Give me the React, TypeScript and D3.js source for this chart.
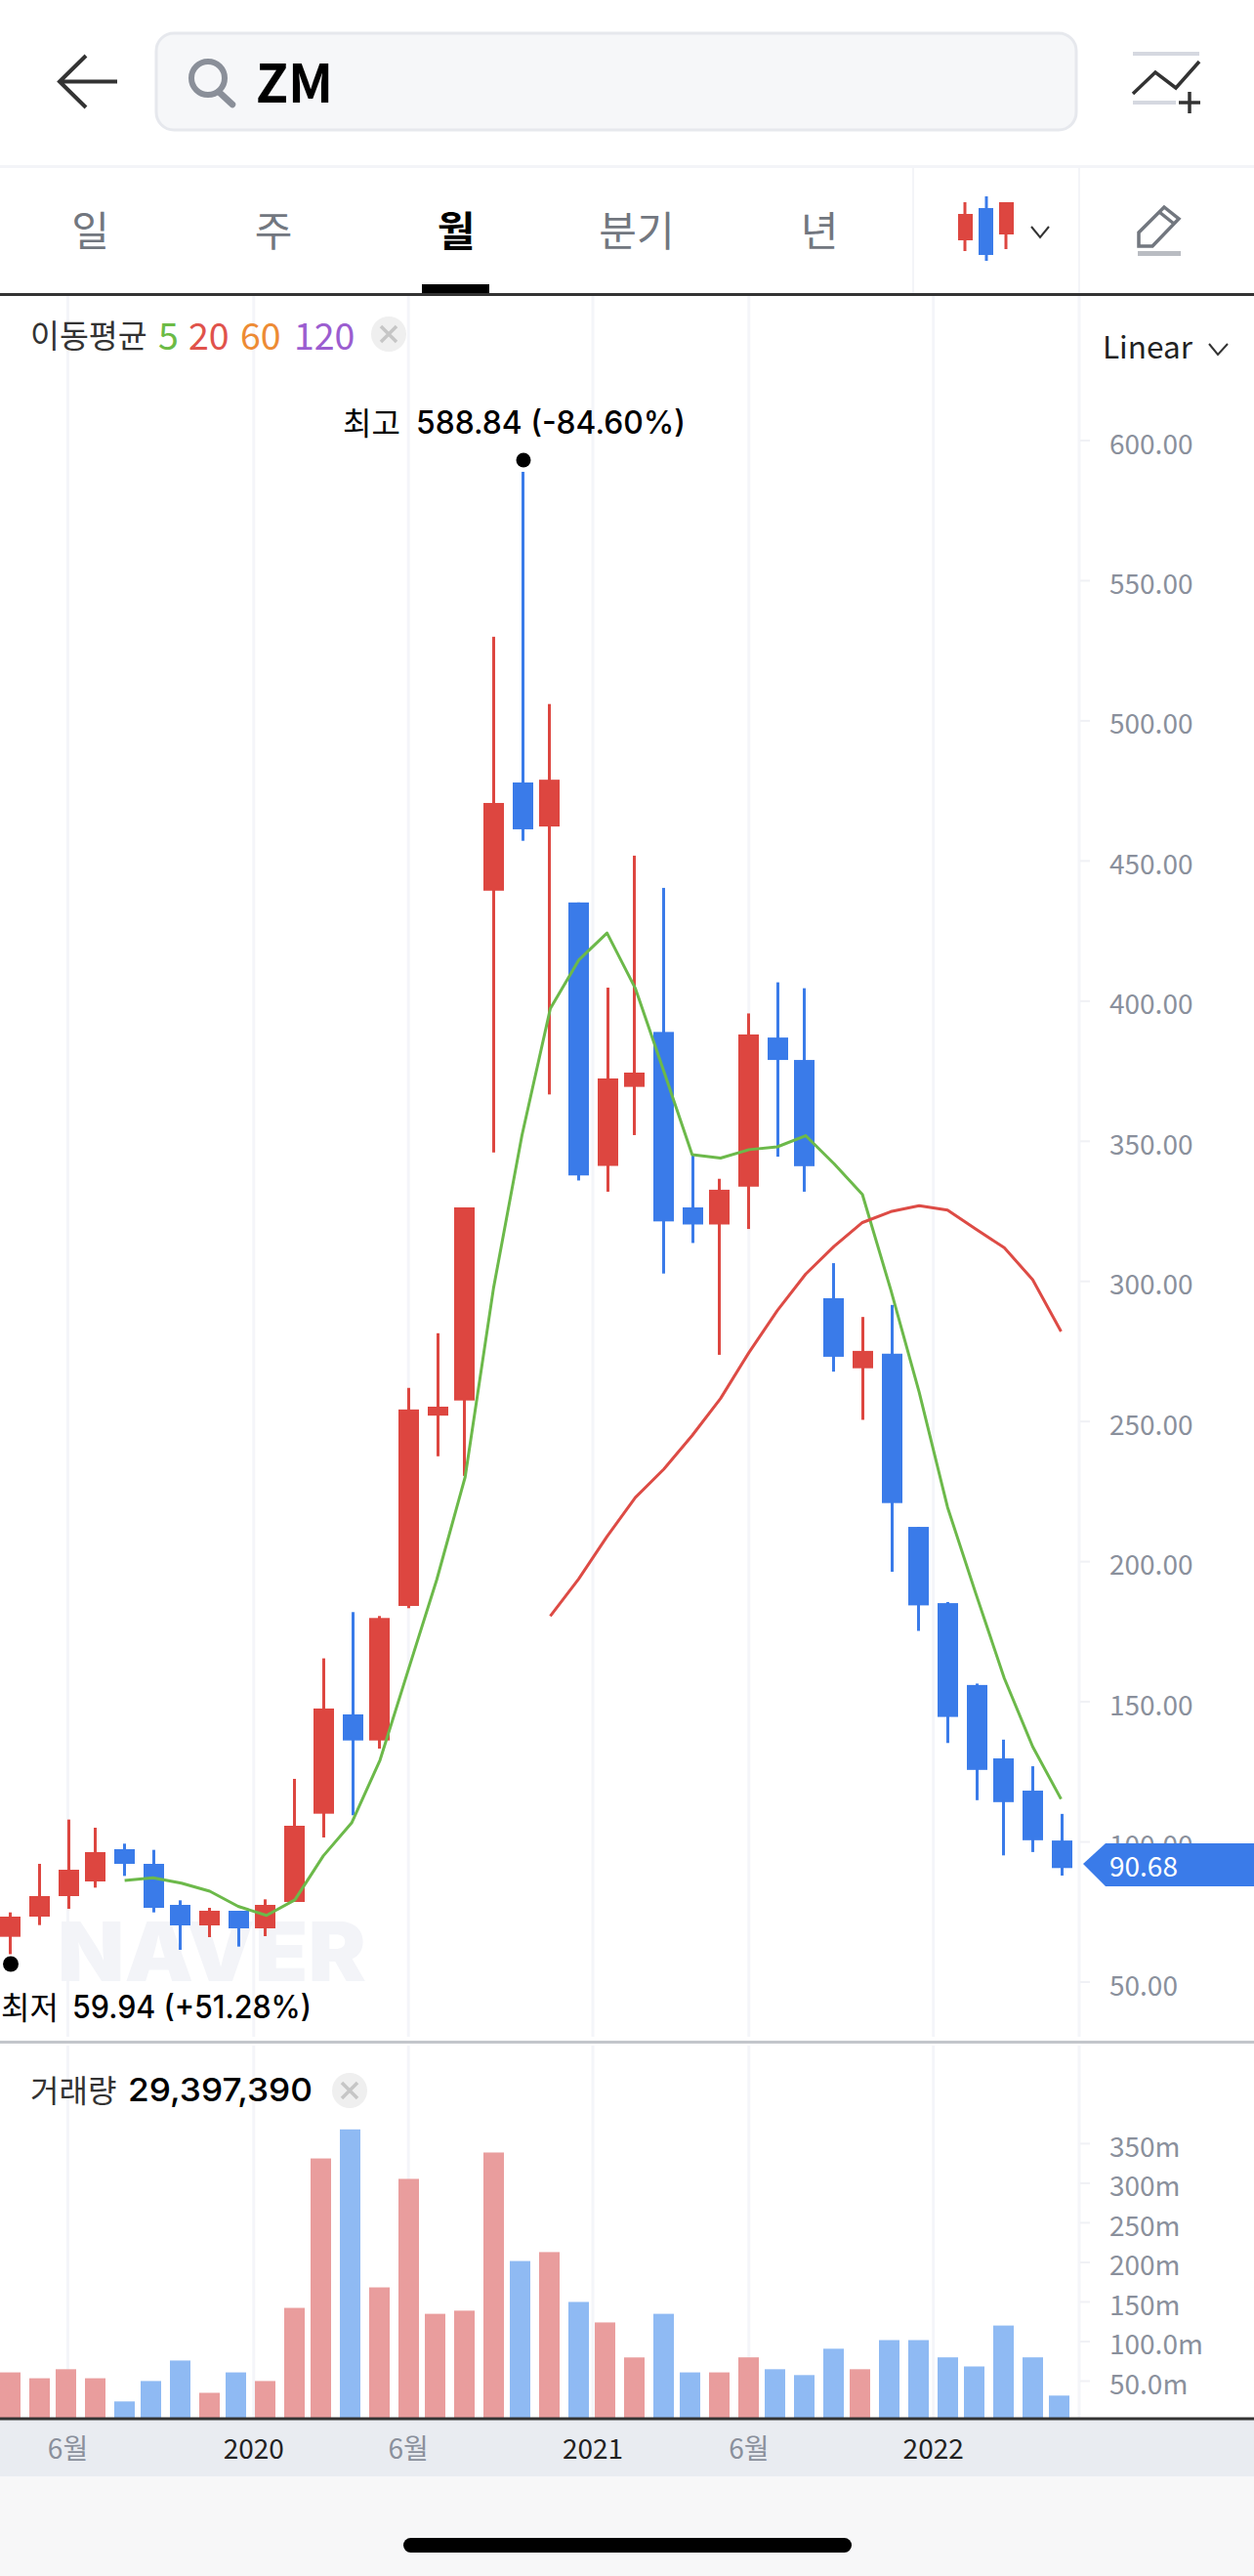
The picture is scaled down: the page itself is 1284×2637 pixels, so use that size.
import React from "react";
import * as d3 from "d3";

const W = 1284;
const H = 2637;
const KR = "'Noto Sans CJK KR', sans-serif";
const LATIN = "Inter, sans-serif";

// Monthly candles, Apr 2019 .. May 2022
const opens = [66.15,73.35,80.67,85.9,97.4,92.18,77.54,70.22,75.44,69.17,78.58,110.07,145.5,136.2,184.2,252.1,257.5,439.4,478,462.3,435.2,341.2,369.4,389,326.4,320.3,333.8,387,379,294,269,274.2,212.4,185.2,156,129.8,118.3,100.5];
const closes = [73.35,80.67,90.08,96.36,92.18,76.49,70.22,75.44,69.17,77.54,105.77,147.6,136.2,179.9,254.3,255.3,326.4,470.7,461.3,479,337.8,372.4,374.5,321.4,320.3,332.7,388.1,379,341.1,273.1,275.2,220.9,184.4,144.6,125.7,114.2,100.6,90.68];
const highs = [74.86,92.18,107.98,105.07,99.38,97.17,79.16,76.49,75.44,79.51,122.5,165.5,182,180.6,262,281.5,326.4,530,588.84,506,435.2,404.8,451.9,440.4,345,336.6,395.6,406.7,404.6,306.5,287.3,291.6,212.4,185.6,156.5,136.5,127,110];
const lows = [59.94,70.33,76.14,83.69,87.88,74.86,61.5,66.03,62.66,66.38,78.58,101.6,109.5,133.3,183.4,237.6,230.6,346,457.2,366.7,336,332,352.2,302.8,313.7,273.8,318.7,344.5,332,267.8,250.6,196.4,175.3,135.3,114.9,95.2,96.4,88];
const volumes = [61,53.6,65,53.6,24.3,50.1,76,35.2,61,50.1,142.5,331.3,368,168.4,305.5,135,139,338.8,201.7,213,150,124.1,79.9,135,61,61,80,65,57.6,90.9,65,101.8,101.8,80,68.5,120.2,80,31.7];
const ma5: (number | null)[] = [null,null,null,null,86.25,87.2,85.3,82.4,77,73.8,79.3,95,106.8,129.2,161.5,193.6,230.2,297.6,352,397.3,414.6,424.3,404.5,375,345.2,344,347,348,352,342,331,297,260.5,219.4,188.5,158.4,134,115.3];
const ma20: (number | null)[] = [null,null,null,null,null,null,null,null,null,null,null,null,null,null,null,null,null,null,null,180.6,193.8,209,222.9,233,245,258.2,274.6,289.6,302.6,312.5,321,324.9,327,325.4,318.6,312,300.6,282.1];

const priceTicks = [50,100,150,200,250,300,350,400,450,500,550,600];
const volumeTicks = [50,100,150,200,250,300,350];
const volumeTickLabels = ["50.0m","100.0m","150m","200m","250m","300m","350m"];
const timeTickSlots = [2,8.55,14,20.5,26,32.5];
const timeTickLabels = ["6월","2020","6월","2021","6월","2022"];
const tabLabels = ["일","주","월","분기","년"];
const tabCenters = [92.5,280,467,652,839];
const maLegend = [["5","#6cbb46",162],["20","#e0524b",193],["60","#ed8b34",246],["120","#9b5dd0",301]] as const;

const RED = "#dd4640";
const BLUE = "#3a7be9";

const slot = d3.scaleLinear().domain([0, 37]).range([3.3, 361.645]);
const y = d3.scaleLinear().domain([50, 600]).range([2029, 451]);
const yVol = d3.scaleLinear().domain([0, 350]).range([2478, 2194.4]);

const candleX = (i: number) => 3 * Math.round(slot(i)) + 1;
const volumeX = (i: number) => 3 * Math.floor(slot(i) + 0.12) + 1;
const lineX = (i: number) => 3 * slot(i) + 1.5;
const gridX = (s: number) => 3 * (slot(s) + 0.5);

const maLine = d3.line<number | null>()
  .defined((d) => d !== null)
  .x((_, i) => lineX(i))
  .y((d) => y(d as number));

const CloseBadge = ({ cx, cy }: { cx: number; cy: number }) => (
  <g>
    <circle cx={cx} cy={cy} r={18} fill="#efefef" />
    <path d={`M${cx - 8} ${cy - 8}L${cx + 8} ${cy + 8}M${cx + 8} ${cy - 8}L${cx - 8} ${cy + 8}`} stroke="#c6c6c6" strokeWidth={3.5} />
  </g>
);

export default function App() {
  const up = (i: number) => closes[i] >= opens[i];
  return (
    <svg width={W} height={H} viewBox={`0 0 ${W} ${H}`} style={{ position: "absolute", left: 0, top: 0, display: "block", fontFamily: KR }}>
      <rect width={W} height={H} fill="#fff" />

      {/* top bar */}
      <path d="M88 57L61 83.5L88 110M61 83.5H120" fill="none" stroke="#333" strokeWidth={4} />
      <rect x={160} y={34} width={942} height={99} rx={18} fill="#f6f7f9" stroke="#e6e8ed" strokeWidth={3} />
      <circle cx={213} cy={80} r={17} fill="none" stroke="#8a8f99" strokeWidth={6} />
      <path d="M224 94L238 107" stroke="#8a8f99" strokeWidth={6.5} strokeLinecap="round" />
      <text x={262} y={105} fontSize={54} fontWeight={700} fill="#000">ZM</text>
      <rect x={1160} y={53} width={68} height={4} fill="#d5d8e0" />
      <path d="M1160 96L1183 74L1204 90L1228 63" fill="none" stroke="#333" strokeWidth={3.5} />
      <rect x={1160} y={103} width={44} height={4} fill="#d5d8e0" />
      <path d="M1218 94V116M1207 105H1229" stroke="#333" strokeWidth={3.5} />
      <rect x={0} y={169} width={W} height={3} fill="#f3f4f8" />

      {/* tabs */}
      {tabLabels.map((t, i) => (
        <text key={t} x={tabCenters[i]} y={233} fontSize={42} textAnchor="middle" dominantBaseline="central"
          fontWeight={i === 2 ? 700 : 400} fill={i === 2 ? "#000" : "#72777f"}>{t}</text>
      ))}
      <rect x={432} y={291} width={69} height={10} fill="#000" />
      <rect x={934} y={172} width={2} height={128} fill="#f3f4f8" />
      <rect x={1104} y={172} width={2} height={128} fill="#f3f4f8" />
      <path d="M988 207V257M1030 207V255" stroke={RED} strokeWidth={3} />
      <path d="M1010 201V267" stroke={BLUE} strokeWidth={3} />
      <rect x={981} y={219} width={15} height={27} fill={RED} />
      <rect x={1002} y={213} width={15} height={48} fill={BLUE} />
      <rect x={1023} y={207} width={15} height={33} fill={RED} />
      <path d="M1056 232L1065 243L1074 232" fill="none" stroke="#333" strokeWidth={2} />
      <path d="M1166 252V238L1192 212L1207 224L1180 252ZM1187 217L1202 229" fill="none" stroke="#72777f" strokeWidth={3.5} />
      <rect x={1165} y={257} width={44} height={5} fill="#b9bcc2" />
      <rect x={0} y={300} width={W} height={3} fill="#333" />

      {/* grid */}
      {[...timeTickSlots.map(gridX), 1105].map((gx, i) => (
        <g key={i}>
          <rect x={gx - 1.5} y={303} width={3} height={1782} fill="#f4f5f9" />
          <rect x={gx - 1.5} y={2094} width={3} height={381} fill="#f4f5f9" />
        </g>
      ))}

      {/* watermark */}
      <text x={59} y={2028} fontFamily={LATIN} fontWeight={900} fontSize={84} fill="#f3f4f8" textLength={316} lengthAdjust="spacingAndGlyphs">NAVER</text>

      {/* legend */}
      <text x={31} y={341} fontSize={32.5} fill="#333" dominantBaseline="central">이동평균</text>
      {maLegend.map(([t, c, x]) => (
        <text key={t} x={x} y={341} fontSize={37.5} fill={c} dominantBaseline="central">{t}</text>
      ))}
      <CloseBadge cx={398} cy={342} />
      <text x={1129} y={353} fontSize={31.5} fill="#222" dominantBaseline="central">Linear</text>
      <path d="M1238 352L1247 363L1257 352" fill="none" stroke="#333" strokeWidth={2} />

      {/* price axis */}
      {priceTicks.map((t) => (
        <g key={t}>
          <rect x={1106} y={y(t) - 1} width={10} height={2} fill="#f0f1f5" />
          <text x={1136} y={y(t) + 1.5} fontSize={28} fill="#8a909c" dominantBaseline="central">{d3.format(".2f")(t)}</text>
        </g>
      ))}

      {/* candles */}
      {closes.map((c, i) => {
        const col = up(i) ? RED : BLUE;
        const top = y(Math.max(opens[i], c));
        const bot = y(Math.min(opens[i], c));
        const cx = candleX(i);
        return (
          <g key={i} fill={col}>
            <rect x={cx - 1} y={y(highs[i])} width={3} height={y(lows[i]) - y(highs[i])} />
            <rect x={cx - 10} y={top} width={21} height={bot - top} />
          </g>
        );
      })}

      {/* moving averages */}
      <path d={maLine(ma5) ?? ""} fill="none" stroke="#6cb94a" strokeWidth={3} strokeLinejoin="round" />
      <path d={maLine(ma20) ?? ""} fill="none" stroke="#dd4b45" strokeWidth={3} strokeLinejoin="round" />

      {/* extremes */}
      <text x={351} y={431} fontSize={32} fill="#000" dominantBaseline="central">최고</text>
      <text x={426} y={432} fontSize={32} fontWeight={500} fontFamily={LATIN} fill="#000" dominantBaseline="central" textLength={276} lengthAdjust="spacingAndGlyphs">588.84 (-84.60%)</text>
      <circle cx={536} cy={y(588.84) - 12} r={7.5} fill="#000" />
      <circle cx={11} cy={y(59.94) + 10} r={8} fill="#000" />
      <text x={1} y={2053} fontSize={32} fill="#000" dominantBaseline="central">최저</text>
      <text x={74} y={2054} fontSize={32} fontWeight={500} fontFamily={LATIN} fill="#000" dominantBaseline="central" textLength={245} lengthAdjust="spacingAndGlyphs">59.94 (+51.28%)</text>

      {/* last price tag */}
      <path d="M1109 1908L1132 1887H1284V1931H1132Z" fill={BLUE} />
      <text x={1136} y={1909} fontSize={28} fill="#fff" dominantBaseline="central">90.68</text>

      {/* separator */}
      <rect x={0} y={2089} width={W} height={3} fill="#c3c6cb" />

      {/* volume */}
      <text x={31} y={2138} fontSize={32} fill="#333" dominantBaseline="central">거래량</text>
      <text x={131} y={2139} fontSize={33} fontWeight={500} fontFamily={LATIN} fill="#000" dominantBaseline="central" textLength={189} lengthAdjust="spacingAndGlyphs">29,397,390</text>
      <CloseBadge cx={358} cy={2140} />
      {volumes.map((v, i) => (
        <rect key={i} x={volumeX(i) - 10} y={yVol(v)} width={21} height={yVol(0) - yVol(v)} fill={up(i) ? "#e99d9d" : "#8fbaf3"} />
      ))}
      {volumeTicks.map((t, i) => (
        <g key={t}>
          <rect x={1106} y={yVol(t) - 1} width={10} height={2} fill="#f0f1f5" />
          <text x={1136} y={yVol(t) + 1.5} fontSize={28} fill="#8a909c" dominantBaseline="central">{volumeTickLabels[i]}</text>
        </g>
      ))}

      {/* time axis */}
      <rect x={0} y={2477} width={W} height={58} fill="#e9ecf1" />
      <rect x={0} y={2474.5} width={W} height={3} fill="#333" />
      {timeTickLabels.map((t, i) => (
        <text key={i} x={gridX(timeTickSlots[i])} y={2505} fontSize={28} textAnchor="middle" dominantBaseline="central"
          fill={t.endsWith("월") ? "#8a909c" : "#222"}>{t}</text>
      ))}

      {/* home area */}
      <rect x={0} y={2535} width={W} height={102} fill="#f7f7f8" />
      <rect x={413} y={2598} width={459} height={15} rx={7.5} fill="#000" />
    </svg>
  );
}
